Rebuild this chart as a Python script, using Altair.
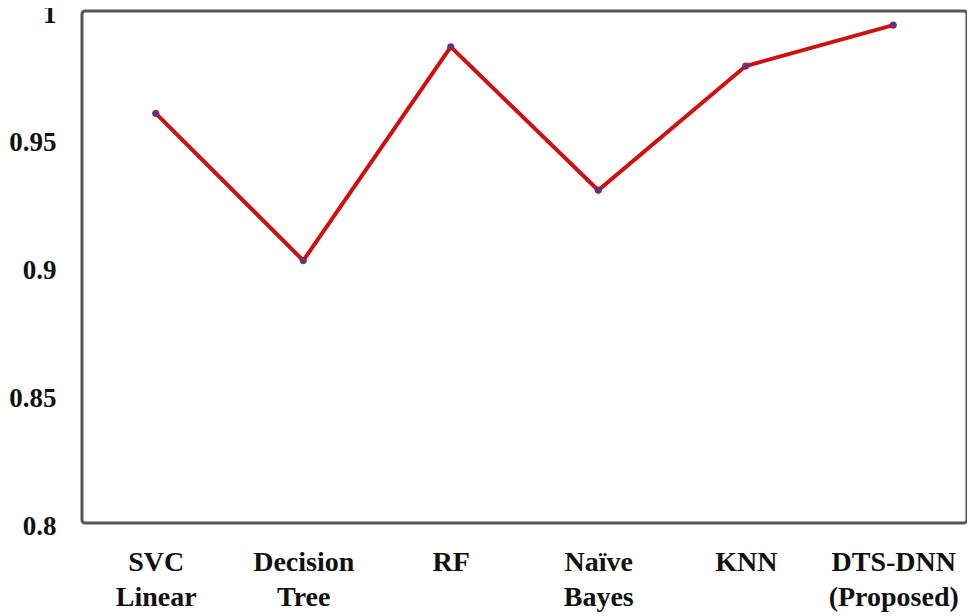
import altair as alt
import pandas as pd

models = ["SVC Linear", "Decision Tree", "RF", "Naïve Bayes", "KNN", "DTS-DNN (Proposed)"]
scores = [0.960, 0.9025, 0.986, 0.930, 0.9785, 0.9945]
y_ticks = [0.8, 0.85, 0.9, 0.95, 1.0]

df = pd.DataFrame({"model": models, "score": scores})

font = "Liberation Serif"

x_enc = alt.X(
    "model:N",
    sort=models,
    scale=alt.Scale(type="point", padding=0.5),
    axis=alt.Axis(
        title=None,
        domain=False,
        ticks=False,
        grid=False,
        labelAngle=0,
        labelFont=font,
        labelFontWeight="bold",
        labelFontSize=28,
        labelColor="#111111",
        labelPadding=25,
        labelLineHeight=35,
        labelExpr="split(datum.label, ' ')",
        labelBaseline="top",
    ),
)
y_enc = alt.Y(
    "score:Q",
    scale=alt.Scale(domain=[0.8, 1.0], nice=False, zero=False),
    axis=alt.Axis(
        title=None,
        values=y_ticks,
        domain=False,
        ticks=False,
        grid=False,
        labelFont=font,
        labelFontWeight="bold",
        labelFontSize=27,
        labelColor="#111111",
        labelPadding=26,
        labelOffset=3,
        labelExpr="datum.value == 1 ? '1' : format(datum.value, '.2~f')",
    ),
)

line = alt.Chart(df).mark_line(color="#d01010", strokeWidth=4).encode(x=x_enc, y=y_enc)
pts = alt.Chart(df).mark_circle(color="#3b3fa8", size=40, opacity=1, stroke="#d01010", strokeWidth=1).encode(x=x_enc, y=y_enc)

chart = (
    alt.layer(line, pts)
    .properties(
        width=885,
        height=512,
        background="white",
        autosize=alt.AutoSizeParams(type="none"),
        padding={"left": 74, "top": 3, "right": 0, "bottom": 90},
    )
    .configure_view(stroke="#555555", strokeWidth=3, cornerRadius=3)
)

chart.save("out.html", embed_options={"renderer": "svg", "actions": False})
